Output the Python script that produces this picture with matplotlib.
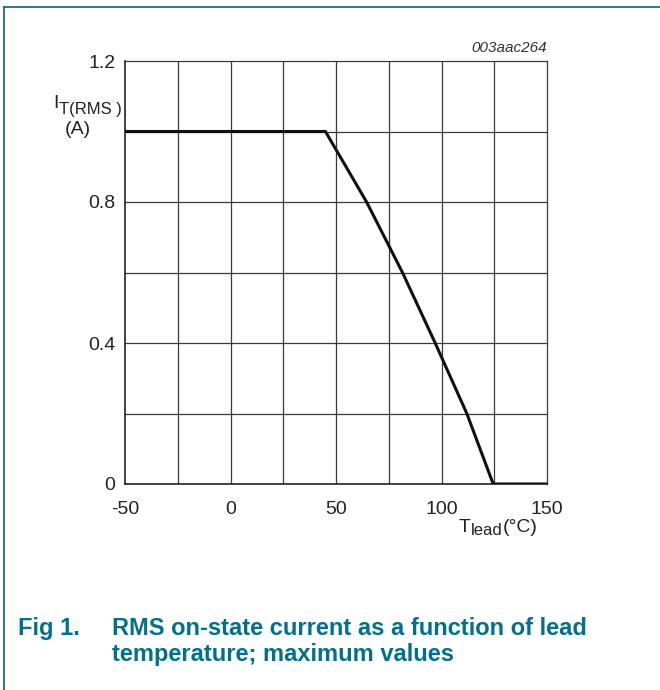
import matplotlib.pyplot as plt
from matplotlib.lines import Line2D

# ---------- Data ----------
t_lead = [-50, 45, 64.5, 81.5, 97, 112, 124.5, 150]
i_rms = [1.0, 1.0, 0.8, 0.6, 0.4, 0.2, 0.0, 0.0]

x_ticks = [-50, 0, 50, 100, 150]
y_ticks = [0, 0.4, 0.8, 1.2]
y_tick_labels = ["0", "0.4", "0.8", "1.2"]

TEAL = "#00708c"
GRID = "#3a3a3a"
TXT = "#222222"
W, H = 660, 690

plt.rcParams["font.family"] = ["Liberation Sans", "DejaVu Sans"]

fig = plt.figure(figsize=(W / 100, H / 100), dpi=100)

def px(x, y):
    return x / W, 1 - y / H

# ---------- Axes ----------
left, top, right, bottom = 125, 61, 547, 484
ax = fig.add_axes([left / W, 1 - bottom / H, (right - left) / W, (bottom - top) / H])
ax.plot(t_lead, i_rms, color="#111111", lw=2.2, solid_joinstyle="round", zorder=3)
ax.set_xlim(-50, 150)
ax.set_ylim(0, 1.2)

for v in range(-25, 150, 25):
    ax.axvline(v, color=GRID, lw=0.9, zorder=1)
for v in [0.2, 0.4, 0.6, 0.8, 1.0]:
    ax.axhline(v, color=GRID, lw=0.9, zorder=1)
for s in ax.spines.values():
    s.set_color(GRID)
    s.set_linewidth(0.9)
ax.spines["left"].set_color(TXT)
ax.spines["bottom"].set_color(TXT)
ax.spines["left"].set_linewidth(1.2)
ax.spines["bottom"].set_linewidth(1.2)

ax.set_xticks(x_ticks)
ax.set_xticklabels([str(v) for v in x_ticks])
ax.set_yticks(y_ticks)
ax.set_yticklabels(y_tick_labels)
ax.tick_params(length=0, labelsize=14, colors=TXT)
ax.tick_params(axis="x", pad=12)
ax.tick_params(axis="y", pad=7)

# ---------- Axis labels ----------
fig.text(*px(53, 108), "I", fontsize=14, color=TXT, ha="left", va="baseline")
fig.text(*px(59, 114), "T(RMS )", fontsize=12, color=TXT, ha="left", va="baseline")
fig.text(*px(78, 134), "(A)", fontsize=14, color=TXT, ha="center", va="baseline")

fig.text(*px(459, 532), "T", fontsize=14, color=TXT, ha="left", va="baseline")
fig.text(*px(471, 535), "lead", fontsize=12, color=TXT, ha="left", va="baseline")
fig.text(*px(503, 532), "(°C)", fontsize=14, color=TXT, ha="left", va="baseline")

fig.text(*px(547, 52), "003aac264", fontsize=11, style="italic", color="#333333",
         ha="right", va="baseline")

# ---------- Caption ----------
fig.text(*px(18, 635), "Fig 1.", fontsize=17, weight="bold", color=TEAL,
         ha="left", va="baseline")
fig.text(*px(112, 635), "RMS on-state current as a function of lead", fontsize=17,
         weight="bold", color=TEAL, ha="left", va="baseline")
fig.text(*px(112, 661), "temperature; maximum values", fontsize=17,
         weight="bold", color=TEAL, ha="left", va="baseline")

# ---------- Frame (left and top only) ----------
fig.add_artist(Line2D([4 / W, 4 / W], [0, 1 - 7 / H], color="#1d6c88", lw=1.3,
                      transform=fig.transFigure))
fig.add_artist(Line2D([4 / W, 1], [1 - 7 / H, 1 - 7 / H], color="#1d6c88", lw=1.3,
                      transform=fig.transFigure))

fig.savefig("out.png", dpi=100)
